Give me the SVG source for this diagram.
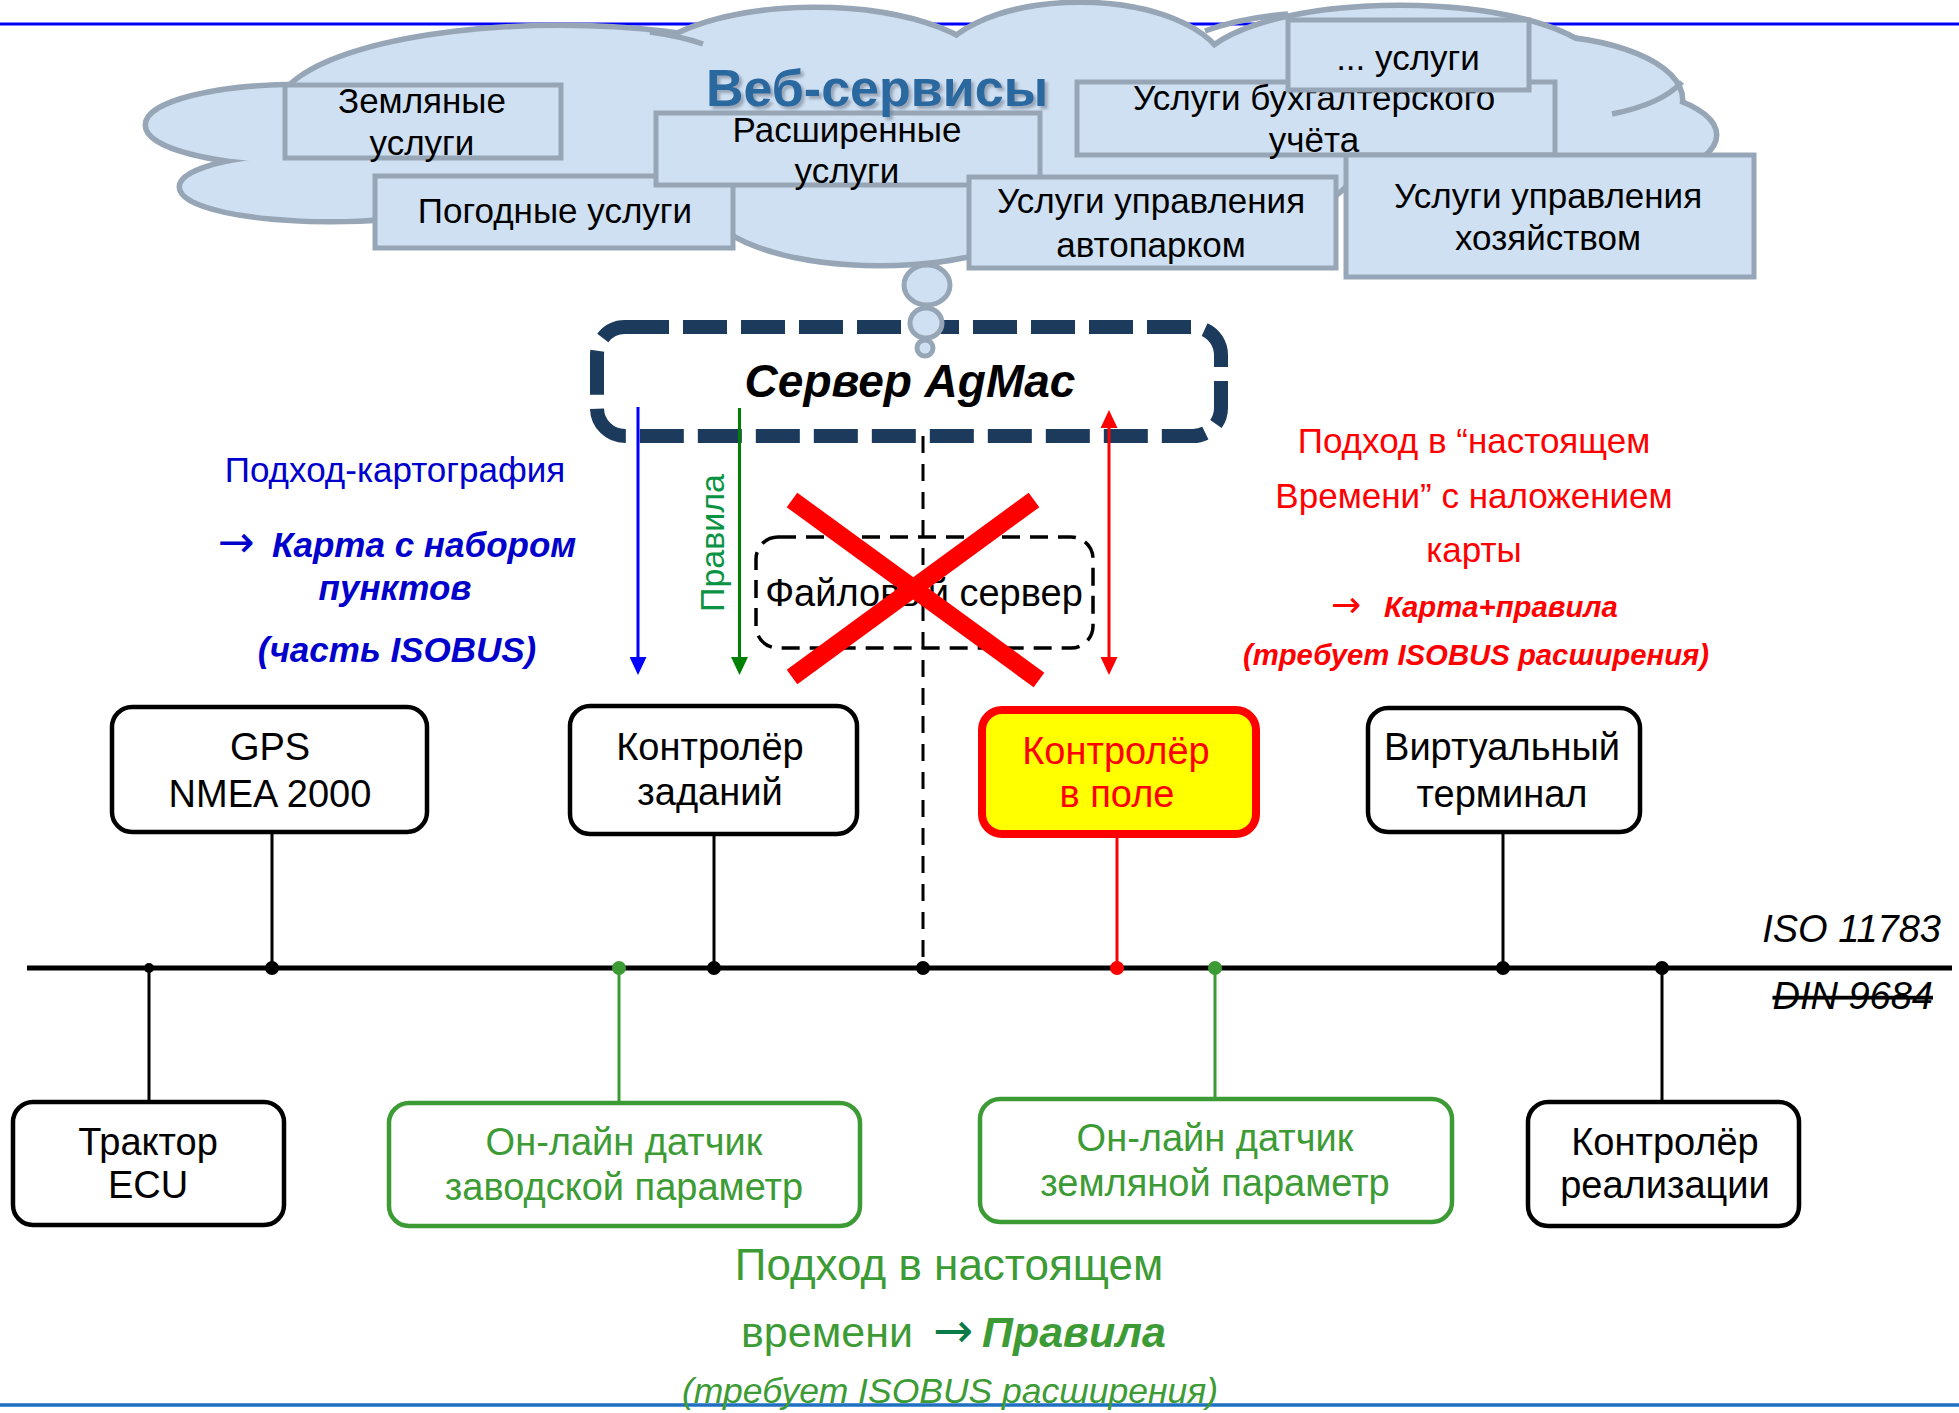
<svg xmlns="http://www.w3.org/2000/svg" width="1959" height="1413" viewBox="0 0 1959 1413">
<style>
text{font-family:"Liberation Sans",Arial,sans-serif}
.clo{fill:none;stroke:#97a6b6;stroke-width:11}
.clf{fill:#cfe0f2;stroke:none}
.stub{fill:none;stroke:#97a6b6;stroke-width:5.5}
.sbox{fill:#cfe0f2;stroke:#97a6b6;stroke-width:5}
.st{font-size:35px;fill:#000;text-anchor:middle}
.node{fill:#fff;stroke:#000;stroke-width:4.5}
.gnode{fill:#fff;stroke:#3d9b35;stroke-width:4.5}
.nt{font-size:38px;fill:#000;text-anchor:middle}
.gt{font-size:38px;fill:#3d9b35;text-anchor:middle}
.bl{font-size:35px;fill:#0000cc}
.rd{font-size:35px;fill:#ff0000}
.rs{font-size:29.3px;fill:#ff0000}
.bi{font-weight:bold;font-style:italic}
.arw{font-family:"DejaVu Sans",sans-serif}
.k{stroke:#000;stroke-width:3;fill:none}
</style>
<defs>
<marker id="ab" viewBox="0 0 18 17" refX="4" refY="8.5" markerWidth="18" markerHeight="17" markerUnits="userSpaceOnUse" orient="auto-start-reverse"><path d="M0,0 L18,8.5 L0,17 z" fill="#0000ff"/></marker>
<marker id="ag" viewBox="0 0 18 17" refX="4" refY="8.5" markerWidth="18" markerHeight="17" markerUnits="userSpaceOnUse" orient="auto-start-reverse"><path d="M0,0 L18,8.5 L0,17 z" fill="#008000"/></marker>
<marker id="ar" viewBox="0 0 18 17" refX="4" refY="8.5" markerWidth="18" markerHeight="17" markerUnits="userSpaceOnUse" orient="auto-start-reverse"><path d="M0,0 L18,8.5 L0,17 z" fill="#ff0000"/></marker>
<filter id="shadow" x="-10%" y="-20%" width="120%" height="150%"><feDropShadow dx="3" dy="3" stdDeviation="1.5" flood-color="#6f7f8f" flood-opacity="0.6"/></filter>
</defs>
<rect width="1959" height="1413" fill="#fff"/>
<line x1="0" y1="24" x2="1959" y2="24" stroke="#0000ff" stroke-width="3"/>
<line x1="0" y1="1405" x2="1959" y2="1405" stroke="#1f6fc2" stroke-width="3.5"/>

<g id="cloud">
<g class="clo">
<ellipse cx="300" cy="125" rx="152" ry="38"/>
<ellipse cx="330" cy="187" rx="148" ry="32"/>
<ellipse cx="560" cy="110" rx="280" ry="82"/>
<ellipse cx="815" cy="78" rx="175" ry="68"/>
<ellipse cx="1080" cy="75" rx="145" ry="70"/>
<ellipse cx="1400" cy="72" rx="200" ry="64"/>
<ellipse cx="1530" cy="100" rx="150" ry="62"/>
<ellipse cx="1560" cy="135" rx="154" ry="50"/>
<ellipse cx="880" cy="200" rx="172" ry="63"/>
<ellipse cx="1150" cy="170" rx="200" ry="60"/>
</g>
<g class="clf">
<ellipse cx="300" cy="125" rx="152" ry="38"/>
<ellipse cx="330" cy="187" rx="148" ry="32"/>
<ellipse cx="560" cy="110" rx="280" ry="82"/>
<ellipse cx="815" cy="78" rx="175" ry="68"/>
<ellipse cx="1080" cy="75" rx="145" ry="70"/>
<ellipse cx="1400" cy="72" rx="200" ry="64"/>
<ellipse cx="1530" cy="100" rx="150" ry="62"/>
<ellipse cx="1560" cy="135" rx="154" ry="50"/>
<ellipse cx="880" cy="200" rx="172" ry="63"/>
<ellipse cx="1150" cy="170" rx="200" ry="60"/>
</g>
<path class="stub" d="M650,32 Q680,36 703,44"/>
<path class="stub" d="M1682,82 Q1662,104 1612,114"/>
<path class="stub" d="M1205,31 Q1240,18 1288,14"/>
</g>

<g id="svc-earth"><rect class="sbox" x="285" y="85" width="276" height="73"/><text class="st" x="422" y="113">Земляные</text><text class="st" x="422" y="155">услуги</text></g>
<g id="svc-weather"><rect class="sbox" x="375" y="176" width="358" height="72"/><text class="st" x="555" y="223">Погодные услуги</text></g>
<g id="svc-ext"><rect class="sbox" x="656" y="113" width="384" height="72"/><text class="st" x="847" y="142">Расширенные</text><text class="st" x="847" y="183">услуги</text></g>
<g id="svc-acc"><rect class="sbox" x="1077" y="82" width="478" height="73"/><text class="st" x="1314" y="110">Услуги бухгалтерского</text><text class="st" x="1314" y="152">учёта</text></g>
<g id="svc-more"><rect class="sbox" x="1288" y="20" width="241" height="70"/><text class="st" x="1408" y="70">... услуги</text></g>
<g id="svc-fleet"><rect class="sbox" x="969" y="177" width="367" height="91"/><text class="st" x="1151" y="213">Услуги управления</text><text class="st" x="1151" y="257">автопарком</text></g>
<g id="svc-farm"><rect class="sbox" x="1346" y="155" width="408" height="122"/><text class="st" x="1548" y="208">Услуги управления</text><text class="st" x="1548" y="250">хозяйством</text></g>
<text x="877" y="106" font-size="52" font-weight="bold" fill="#2c67a0" text-anchor="middle" filter="url(#shadow)">Веб-сервисы</text>

<g id="agmac">
<rect x="597" y="327" width="624" height="109" rx="28" fill="none" stroke="#1b3a5c" stroke-width="14" stroke-dasharray="44 14"/>
<text x="910" y="397" font-size="46" class="bi" text-anchor="middle" fill="#000">Сервер AgMac</text>
</g>
<g id="bubble" fill="#cfe0f2" stroke="#97a6b6" stroke-width="5">
<ellipse cx="927" cy="285" rx="23" ry="20"/>
<ellipse cx="926" cy="323" rx="16" ry="15"/>
<ellipse cx="925" cy="348" rx="8" ry="8"/>
</g>

<g id="fileserver">
<rect x="756" y="537" width="337" height="111" rx="22" fill="none" stroke="#000" stroke-width="3.5" stroke-dasharray="18 10"/>
<text x="924" y="606" font-size="38" fill="#000" text-anchor="middle">Файловый сервер</text>
</g>

<g id="gps"><rect class="node" x="112" y="707" width="315" height="125" rx="20"/><text class="nt" x="270" y="760">GPS</text><text class="nt" x="270" y="807">NMEA 2000</text></g>
<g id="taskctrl"><rect class="node" x="570" y="706" width="287" height="128" rx="20"/><text class="nt" x="710" y="760">Контролёр</text><text class="nt" x="710" y="805">заданий</text></g>
<g id="fieldctrl"><rect x="982" y="710" width="274" height="124" rx="20" fill="#ffff00" stroke="#ff0000" stroke-width="8"/><text class="nt" x="1116" y="764" style="fill:#ff0000">Контролёр</text><text class="nt" x="1117" y="807" style="fill:#ff0000">в поле</text></g>
<g id="vt"><rect class="node" x="1368" y="708" width="272" height="124" rx="20"/><text class="nt" x="1502" y="760">Виртуальный</text><text class="nt" x="1502" y="807">терминал</text></g>
<g id="tractor"><rect class="node" x="13" y="1102" width="271" height="123" rx="20"/><text class="nt" x="148" y="1155">Трактор</text><text class="nt" x="148" y="1198">ECU</text></g>
<g id="sensor1"><rect class="gnode" x="389" y="1103" width="471" height="123" rx="20"/><text class="gt" x="624" y="1155">Он-лайн датчик</text><text class="gt" x="624" y="1200">заводской параметр</text></g>
<g id="sensor2"><rect class="gnode" x="980" y="1099" width="472" height="123" rx="20"/><text class="gt" x="1215" y="1151">Он-лайн датчик</text><text class="gt" x="1215" y="1196">земляной параметр</text></g>
<g id="implctrl"><rect class="node" x="1528" y="1102" width="271" height="124" rx="20"/><text class="nt" x="1665" y="1155">Контролёр</text><text class="nt" x="1665" y="1198">реализации</text></g>

<g id="connectors">
<line x1="638" y1="407" x2="638" y2="661" stroke="#0000ff" stroke-width="3" marker-end="url(#ab)"/>
<line x1="739.5" y1="408" x2="739.5" y2="661" stroke="#008000" stroke-width="3" marker-end="url(#ag)"/>
<line x1="1109" y1="424" x2="1109" y2="661" stroke="#ff0000" stroke-width="3" marker-start="url(#ar)" marker-end="url(#ar)"/>
<line x1="923" y1="436" x2="923" y2="968" class="k" stroke-dasharray="17 11"/>
<line x1="27" y1="968" x2="1952" y2="968" stroke="#000" stroke-width="5"/>
<line x1="272" y1="832" x2="272" y2="968" class="k"/>
<line x1="149" y1="968" x2="149" y2="1102" class="k"/>
<line x1="619" y1="968" x2="619" y2="1103" stroke="#3d9b35" stroke-width="3"/>
<line x1="714" y1="834" x2="714" y2="968" class="k"/>
<line x1="1117" y1="838" x2="1117" y2="968" stroke="#ff0000" stroke-width="3"/>
<line x1="1215" y1="968" x2="1215" y2="1099" stroke="#3d9b35" stroke-width="3"/>
<line x1="1503" y1="832" x2="1503" y2="968" class="k"/>
<line x1="1662" y1="968" x2="1662" y2="1102" class="k"/>
<circle cx="149" cy="968" r="5"/>
<circle cx="272" cy="968" r="7"/>
<circle cx="619" cy="968" r="7" fill="#3d9b35"/>
<circle cx="714" cy="968" r="7"/>
<circle cx="923" cy="968" r="7"/>
<circle cx="1117" cy="968" r="7" fill="#ff0000"/>
<circle cx="1215" cy="968" r="7" fill="#3d9b35"/>
<circle cx="1503" cy="968" r="7"/>
<circle cx="1662" cy="968" r="7"/>
</g>

<g id="redx" stroke="#ff0000" stroke-width="18">
<line x1="792" y1="500" x2="1039" y2="680"/>
<line x1="1034" y1="500" x2="792" y2="677"/>
</g>

<text x="712" y="543" font-size="34" fill="#0a9343" text-anchor="middle" dominant-baseline="central" transform="rotate(-90 712 543)">Правила</text>

<g id="left-label">
<text class="bl" x="395" y="482" text-anchor="middle">Подход-картография</text>
<text class="bl" y="557"><tspan x="236" class="arw" font-size="44" text-anchor="middle">→</tspan><tspan x="272" class="bi">Карта с набором</tspan></text>
<text class="bl bi" x="395" y="600" text-anchor="middle">пунктов</text>
<text class="bl bi" x="397" y="662" text-anchor="middle">(часть ISOBUS)</text>
</g>
<g id="right-label">
<text class="rd" x="1474" y="453" text-anchor="middle">Подход в “настоящем</text>
<text class="rd" x="1474" y="508" text-anchor="middle">Времени” с наложением</text>
<text class="rd" x="1474" y="562" text-anchor="middle">карты</text>
<text class="rs" y="617"><tspan x="1346" class="arw" font-size="36" text-anchor="middle">→</tspan><tspan x="1384" class="bi">Карта+правила</tspan></text>
<text class="rs bi" x="1476" y="665" text-anchor="middle">(требует ISOBUS расширения)</text>
</g>
<g id="bottom-label" fill="#3d9b35">
<text x="949" y="1280" font-size="44" text-anchor="middle">Подход в настоящем</text>
<text y="1347" font-size="43"><tspan x="741">времени</tspan><tspan x="953" class="arw" font-size="48" text-anchor="middle" fill="#0b7a48">→</tspan><tspan x="982" class="bi">Правила</tspan></text>
<text x="950" y="1403" font-size="35.5" font-style="italic" text-anchor="middle">(требует ISOBUS расширения)</text>
</g>
<text x="1941" y="942" font-size="38" font-style="italic" text-anchor="end">ISO 11783</text>
<text x="1933" y="1009" font-size="38" font-style="italic" text-anchor="end" text-decoration="line-through">DIN 9684</text>
</svg>
